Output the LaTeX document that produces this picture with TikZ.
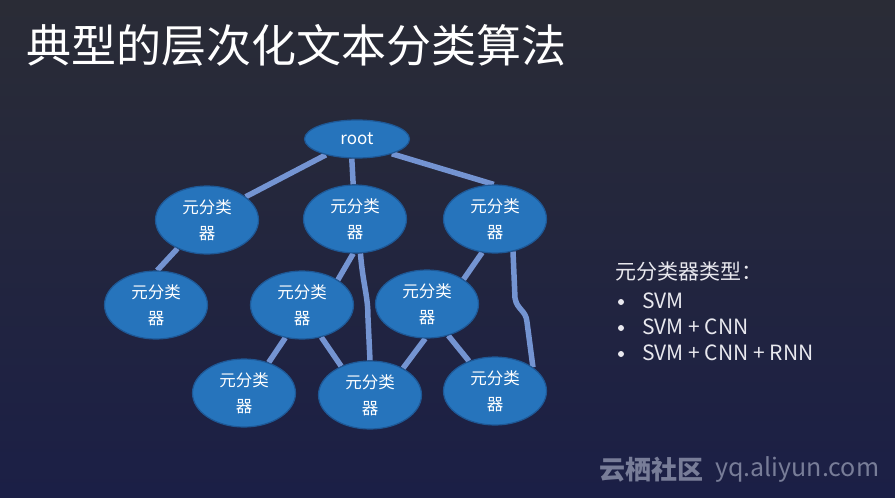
\documentclass[tikz,border=0pt]{standalone}
\usepackage{fontspec}
\setmainfont{Noto Sans CJK SC}
\usetikzlibrary{shapes.geometric}
\definecolor{nodeblue}{RGB}{38,116,188}
\definecolor{nodeedge}{RGB}{30,88,150}
\definecolor{edgeblue}{RGB}{116,148,210}
\definecolor{bgtop}{RGB}{42,44,54}
\definecolor{bgmid}{RGB}{36,40,62}
\definecolor{bgbot}{RGB}{27,31,70}
\definecolor{txtlight}{RGB}{232,232,238}
\definecolor{wmgray}{RGB}{120,125,152}
\pgfdeclarelayer{edgelayer}
\pgfsetlayers{edgelayer,main}
\tikzset{
  clf/.style={ellipse, fill=nodeblue, draw=nodeedge, line width=1.2pt, text=white, minimum width=103pt, minimum height=68pt,
    inner sep=0pt, align=center, font=\fontsize{16.5}{26}\selectfont},
  rootbox/.style={ellipse, fill=nodeblue, draw=nodeedge, line width=1.2pt, text=white, minimum width=105pt, minimum height=38pt,
    inner sep=0pt, font=\fontsize{17}{20}\selectfont},
  link/.style={draw=edgeblue, line width=5.5pt},
  side/.style={anchor=west, text=txtlight, inner sep=0pt, font=\fontsize{21}{24}\selectfont},
  bul/.style={circle, fill=txtlight, inner sep=0pt, minimum size=6pt},
}
\begin{document}
\begin{tikzpicture}[x=1pt,y=-1pt]
\begin{pgfonlayer}{edgelayer}
  \shade[top color=bgtop, middle color=bgmid, bottom color=bgbot] (0,0) rectangle (895,498);
\end{pgfonlayer}
\useasboundingbox (0,0) rectangle (895,498);

\node[anchor=west, text=white, inner sep=0pt, font=\fontsize{45}{50}\selectfont] (title) at (26,45) {典型的层次化文本分类算法};

\node[rootbox] (root) at (357,139) {root};
\node[clf] (A1) at (207,220) {元分类\\器};
\node[clf] (B1) at (355,219) {元分类\\器};
\node[clf] (C1) at (495,219) {元分类\\器};
\node[clf] (A2) at (156,305) {元分类\\器};
\node[clf] (B2) at (302,305) {元分类\\器};
\node[clf] (C2) at (427,304) {元分类\\器};
\node[clf] (A3) at (244,393) {元分类\\器};
\node[clf] (B3) at (370,395) {元分类\\器};
\node[clf] (C3) at (495,391) {元分类\\器};

\begin{pgfonlayer}{edgelayer}
  \draw[link] (root.-153) -- (A1.31);
  \draw[link] (root.-105) -- (B1.93);
  \draw[link] (root.-23) -- (C1.92);
  \draw[link] (A1.-136) -- (A2.88);
  \draw[link] (B1.-93) -- (B2.35);
  \draw[link] (B1.-81) .. controls (363,285) and (368,295) .. (368,318) -- (B3.90);
  \draw[link] (C1.-111) -- (C2.34);
  \draw[link] (C1.-61) -- (515,298) .. controls (517,310) and (526,310) .. (527,322) -- (C3.32);
  \draw[link] (B2.-117) -- (A3.51);
  \draw[link] (B2.-59) -- (B3.135);
  \draw[link] (C2.-93) -- (B3.39);
  \draw[link] (C2.-56) -- (C3.131);
\end{pgfonlayer}

\node[side] (hdr) at (615,272) {元分类器类型：};
\node[bul] (b1) at (621,302) {};
\node[side] (i1) at (642,301) {SVM};
\node[bul] (b2) at (621,328) {};
\node[side] (i2) at (642,327) {SVM + CNN};
\node[bul] (b3) at (621,354) {};
\node[side] (i3) at (642,353) {SVM + CNN + RNN};

\node[anchor=west, inner sep=0pt, text=wmgray, font=\fontsize{26}{30}\selectfont\bfseries] (wm1) at (599,470) {云栖社区};
\node[anchor=west, inner sep=0pt, text=wmgray, font=\fontsize{25}{30}\selectfont] (wm2) at (715,469) {yq.aliyun.com};
\end{tikzpicture}
\end{document}
